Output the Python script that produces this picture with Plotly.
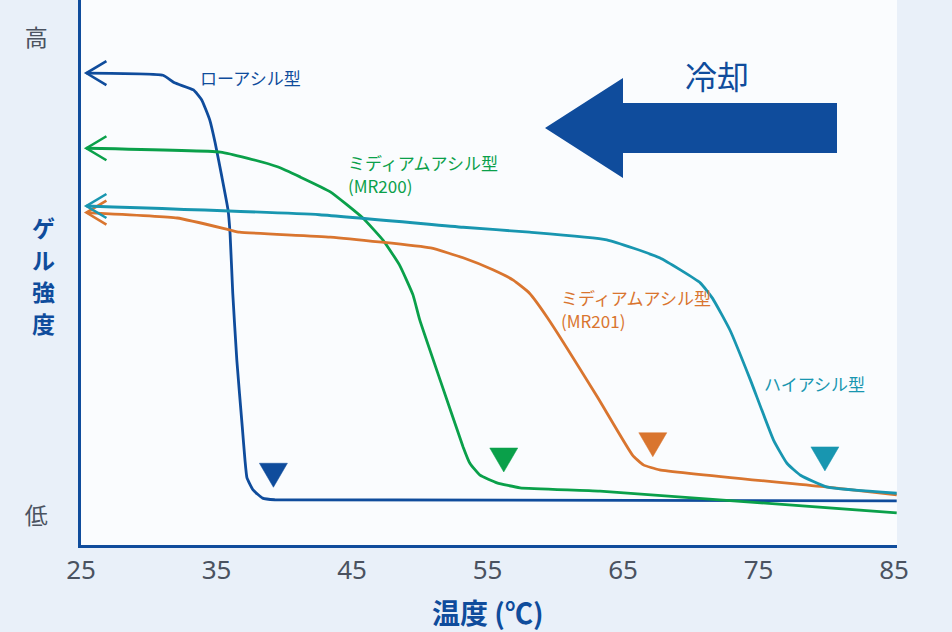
import plotly.graph_objects as go

# gel strength vs temperature (0 = 低, 100 = 高)
low_x = [25.4, 31.05, 31.9, 33.3, 33.9, 34.5, 34.9, 35.4, 35.85, 36.0, 36.2, 36.5, 36.9, 37.1, 37.25, 37.7, 38.4, 39.3, 85.2]
low_y = [86.6, 86.2, 84.8, 83.5, 81.7, 78.0, 73.8, 67.5, 61.5, 57.2, 46.2, 33.9, 21.7, 15.6, 12.3, 10.1, 8.6, 8.3, 8.1]

mr200_x = [25.4, 35.3, 37.25, 39.5, 41.2, 43.4, 45.8, 47.3, 48.5, 49.5, 50.0, 51.5, 53.2, 53.7, 54.45, 55.7, 57.4, 63.3, 85.2]
mr200_y = [72.8, 72.1, 71.0, 69.4, 67.5, 64.8, 60.0, 55.9, 51.4, 45.9, 41.3, 30.3, 18.0, 15.0, 12.8, 11.4, 10.5, 9.9, 5.9]

mr201_x = [25.4, 32.1, 36.0, 36.7, 43.4, 50.8, 53.2, 55.4, 56.9, 58.1, 59.4, 63.1, 65.7, 66.5, 67.7, 80.1, 85.2]
mr201_y = [61.0, 60.0, 57.8, 57.4, 56.5, 54.5, 52.7, 50.5, 48.6, 46.2, 41.8, 27.2, 16.5, 14.7, 13.8, 10.6, 9.2]

high_x = [25.4, 42.6, 53.2, 58.1, 63.8, 67.7, 70.7, 71.6, 72.9, 74.4, 76.1, 77.1, 78.1, 80.1, 85.2]
high_y = [62.2, 60.6, 58.3, 57.4, 56.0, 52.7, 48.1, 45.3, 39.4, 30.3, 19.3, 15.0, 12.8, 10.6, 9.5]

# gelling point markers (▼)
gel_temp = [39.2, 56.2, 67.2, 79.9]
gel_top = [15.0, 17.8, 20.6, 18.0]

colors = ["#0f4c9c", "#0aa04a", "#d9752f", "#1896b0"]
xticks = [25, 35, 45, 55, 65, 75, 85]
ytitle_chars = ["ゲ", "ル", "強", "度"]

# pixel helpers (plot area: x 81..897, y 0..545)
XS = 13.55
YS = 5.45


def px2x(px):
    return 25 + (px - 81) / XS


def px2y(py):
    return (545 - py) / YS


fig = go.Figure()

series = [(low_x, low_y), (mr200_x, mr200_y), (mr201_x, mr201_y), (high_x, high_y)]
for (xs, ys), c in zip(series, colors):
    fig.add_trace(go.Scatter(x=xs, y=ys, mode="lines",
                             line=dict(color=c, width=2.8, shape="spline", smoothing=0.4),
                             hoverinfo="skip", showlegend=False))
    # open arrow head at the start of each curve
    ax, ay = xs[0], ys[0]
    fig.add_trace(go.Scatter(x=[ax + 20 / XS, ax, ax + 20 / XS],
                             y=[ay + 12 / YS, ay, ay - 12 / YS],
                             mode="lines", line=dict(color=c, width=2.6),
                             hoverinfo="skip", showlegend=False))

for t, top, c in zip(gel_temp, gel_top, colors):
    hw = 14 / XS
    h = 24 / YS
    fig.add_trace(go.Scatter(x=[t - hw, t + hw, t, t - hw], y=[top, top, top - h, top],
                             mode="lines", fill="toself", fillcolor=c,
                             line=dict(color=c, width=0.5),
                             hoverinfo="skip", showlegend=False))

# big cooling arrow
pts = [(545, 128), (623, 78), (623, 103), (837, 103), (837, 153), (623, 153), (623, 178)]
path = "M " + " L ".join(f"{px2x(a)},{px2y(b)}" for a, b in pts) + " Z"
fig.add_shape(type="path", path=path, xref="x", yref="y",
              fillcolor="#0f4c9c", line=dict(width=0))

font = "Noto Sans CJK JP, Noto Sans, sans-serif"
labels = [
    ("ローアシル型", 198, 77, colors[0]),
    ("ミディアムアシル型", 346, 162, colors[1]),
    ("(MR200)", 346, 185, colors[1]),
    ("ミディアムアシル型", 559, 297, colors[2]),
    ("(MR201)", 559, 320, colors[2]),
    ("ハイアシル型", 762, 383, colors[3]),
]
for text, lx, ly, c in labels:
    fig.add_annotation(x=px2x(lx), y=px2y(ly), xref="x", yref="y", text=text,
                       showarrow=False, xanchor="left", yanchor="middle", align="left",
                       font=dict(family=font, size=17, color=c))

fig.add_annotation(x=px2x(717), y=px2y(75), xref="x", yref="y", text="冷却",
                   showarrow=False, xanchor="center", yanchor="middle",
                   font=dict(family=font, size=32, color="#0f4c9c"))

# axis titles (outside the plot area, so placed in paper units)
for i, ch in enumerate(ytitle_chars):
    fig.add_annotation(x=(43 - 81) / 816, y=(545 - (227 + 32 * i)) / 545,
                       xref="paper", yref="paper", text=f"<b>{ch}</b>", showarrow=False,
                       xanchor="center", yanchor="middle", borderpad=0,
                       font=dict(family=font, size=23, color="#0f4c9c"))

fig.add_annotation(x=(488 - 81) / 816, y=(545 - 612) / 545, xref="paper", yref="paper",
                   text="<b>温度 (℃)</b>", showarrow=False,
                   xanchor="center", yanchor="middle",
                   font=dict(family=font, size=28, color="#0f4c9c"))

fig.update_layout(
    width=952, height=632,
    margin=dict(l=81, r=55, t=0, b=87),
    paper_bgcolor="#e9f0f9",
    plot_bgcolor="#fafcfe",
    font=dict(family=font),
    xaxis=dict(range=[25, px2x(897)], tickvals=xticks, showgrid=False, zeroline=False,
               showline=True, linecolor="#0f4c9c", linewidth=2.5, ticks="",
               tickfont=dict(family="Noto Sans, sans-serif", size=26, color="#4a5260")),
    yaxis=dict(range=[0, 100], tickvals=[px2y(38), px2y(516)], ticktext=["高", "低"],
               showgrid=False, zeroline=False, showline=True, linecolor="#0f4c9c",
               linewidth=2.5, ticks="", ticklabelstandoff=26,
               tickfont=dict(family=font, size=23, color="#4a5260")),
)

# drop the page margin so the figure sits at the top-left corner
fig.write_html("out.html", config={"displayModeBar": False},
               post_script="document.body.style.margin='0';document.body.style.overflow='hidden';")
